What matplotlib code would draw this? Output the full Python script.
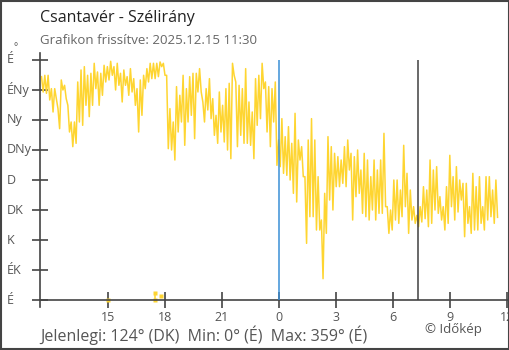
import numpy as np
import matplotlib
matplotlib.use("Agg")
import matplotlib.pyplot as plt
import matplotlib.transforms as mtransforms
import matplotlib.patches as mpatches

plt.rcParams['font.family'] = ['Open Sans', 'DejaVu Sans']

# wind direction in degrees, read off the chart as high/low pairs
# (about 5 min apart), from 11:30 yesterday to 11:30 today
wind_dir = [
    335, 312, 337, 310, 337, 300, 317, 282, 317, 302, 287, 257, 330, 315, 322, 302,
    292, 252, 267, 230, 267, 235, 327, 267, 345, 262, 350, 292, 337, 275, 340, 292,
    355, 317, 342, 292, 340, 307, 352, 327, 350, 330, 358, 337, 350, 315, 355, 322,
    340, 297, 345, 322, 335, 307, 347, 312, 332, 292, 317, 252, 330, 277, 337, 317,
    347, 327, 355, 332, 355, 332, 355, 335,
    357, 350, 355, 337, 337, 227, 287, 225, 267, 210, 320, 252, 307, 267, 337, 232,
    317, 267, 335, 277, 340, 242, 340, 312, 347, 312, 297, 267, 317, 285, 332, 272,
    302, 247, 277, 235, 312, 252, 292, 237, 317, 225, 325, 212, 355, 337, 327, 230,
    322, 247, 317, 235, 347, 235, 297, 232, 282, 212, 332, 262, 337, 272, 355, 317,
    327, 252, 320, 230, 317, 267, 327, 202,
    240, 200, 272, 190, 245, 187, 260, 180, 235, 160, 280, 147, 240, 210, 230, 185,
    185, 85, 240, 125, 272, 125, 240, 105, 185, 105, 120, 32, 160, 100, 245, 150,
    230, 135, 220, 170, 215, 170, 210, 175, 230, 170, 240, 195, 220, 120, 215, 155,
    225, 160, 195, 130, 220, 125, 210, 120, 185, 135, 210, 120, 195, 130, 210, 130,
    250, 140, 140, 100, 135, 105, 180, 120,
    180, 115, 165, 125, 232, 140, 190, 100, 165, 120, 140, 115, 127, 110, 140, 117,
    170, 122, 165, 110, 210, 115, 195, 135, 200, 130, 155, 120, 140, 105, 170, 115,
    217, 140, 185, 120, 200, 132, 180, 150, 175, 95, 175, 115, 140, 100, 190, 105,
    170, 105, 185, 115, 140, 105, 185, 120, 185, 125, 165, 115, 180, 124,
]
start_hour = -12.5   # 11:30 yesterday, hours from midnight
end_hour = 11.5      # 11:30 today

# the few readings close to north that wrapped to 0
north_hours = [-9.0, -6.53, -6.53, -6.21]
north_deg = [0, 10, 0, 6]

sunrise_hour = 7.32

dir_ticks = [0, 45, 90, 135, 180, 225, 270, 315, 360]
dir_labels = ['É', 'ÉK', 'K', 'DK', 'D', 'DNy', 'Ny', 'ÉNy', 'É']
hour_ticks = [-9, -6, -3, 0, 3, 6, 9, 12]
hour_labels = ['15', '18', '21', '0', '3', '6', '9', '12']

yellow = '#fed531'
dark = '#444444'

fig = plt.figure(figsize=(5.1, 3.5), dpi=100)
ax = fig.add_axes([40 / 510, 1 - 306.7 / 350, 468 / 510, 253.4 / 350])

t = np.linspace(start_hour, end_hour, len(wind_dir))
ax.plot(t, wind_dir, color=yellow, lw=1.1, zorder=2)
ax.plot(north_hours[1:3], north_deg[1:3], color=yellow, lw=1.1, zorder=2)
ax.plot(north_hours, north_deg, 's', color=yellow, ms=2.5, mec='none', zorder=2, clip_on=False)

ax.vlines(0, 0, 360, color='#3a8fd6', lw=1.1, zorder=3)
ax.vlines(sunrise_hour, 0, 360, color='#404040', lw=1.1, zorder=3)

ax.set_xlim(-12.58, 12.05)
ax.set_ylim(-10, 370)
for s in ['top', 'right']:
    ax.spines[s].set_visible(False)
ax.spines['bottom'].set_position(('data', 0))
for s in ['left', 'bottom']:
    ax.spines[s].set_color(dark)
    ax.spines[s].set_linewidth(1.2)

ax.set_xticks(hour_ticks)
ax.set_xticklabels(hour_labels)
ax.set_yticks(dir_ticks)
ax.set_yticklabels([])
ax.tick_params(axis='both', direction='inout', length=12, width=1.2, color=dark)
ax.tick_params(axis='x', labelsize=9, labelcolor='#555555', pad=2)

# direction labels sit at the left edge of the picture
tr = mtransforms.blended_transform_factory(fig.transFigure, ax.transData)
for d, lab in zip(dir_ticks, dir_labels):
    ax.text(7 / 510, d, lab, transform=tr, ha='left', va='center',
            fontsize=9, color='#555555')
fig.text(14 / 510, 1 - 48 / 350, '°', ha='left', va='center', fontsize=7, color='#555555')

fig.text(40 / 510, 1 - 18 / 350, 'Csantavér - Szélirány', ha='left', va='center',
         fontsize=11.5, color='#222222')
fig.text(40 / 510, 1 - 40 / 350, 'Grafikon frissítve: 2025.12.15 11:30', ha='left',
         va='center', fontsize=9.5, color='#666666')
fig.text(40 / 510, 1 - 335 / 350, 'Jelenlegi: 124° (DK)  Min: 0° (É)  Max: 359° (É)',
         ha='left', va='center', fontsize=11.5, color='#555555')
fig.text(482 / 510, 1 - 330 / 350, '© Időkép', ha='right', va='center',
         fontsize=9.5, color='#555555')

fig.patches.append(mpatches.Rectangle((0.5 / 510, 1.5 / 350), 508.5 / 510, 347.5 / 350,
                                      transform=fig.transFigure, fill=False,
                                      edgecolor=dark, lw=1.5))

fig.savefig('out.png', dpi=100)
